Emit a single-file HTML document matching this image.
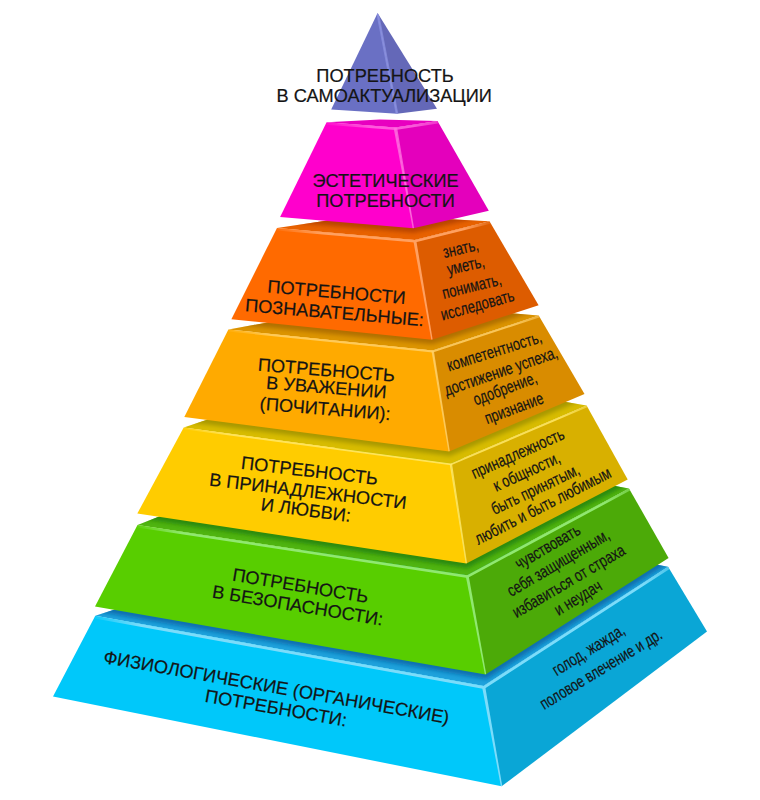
<!DOCTYPE html>
<html><head><meta charset="utf-8"><title>Пирамида потребностей</title>
<style>html,body{margin:0;padding:0;background:#fff;width:760px;height:800px;overflow:hidden}
svg{display:block} text{font-family:"Liberation Sans",sans-serif;fill:#141414;stroke:#141414;stroke-width:0.2px}</style></head>
<body><svg width="760" height="800" viewBox="0 0 760 800">
<defs>
<filter id="bl" x="-10%" y="-50%" width="120%" height="200%"><feGaussianBlur stdDeviation="2"/></filter>
<clipPath id="ct0"><polygon points="95.3,615.8 400.0,518.0 668.1,566.7 483.5,686.0"/></clipPath>
<clipPath id="cf0"><polygon points="95.3,615.8 483.5,686.0 501.6,786.3 53.0,696.6"/><polygon points="483.5,686.0 668.1,566.7 707.0,631.6 501.6,786.3"/></clipPath>
<linearGradient id="hg0" gradientUnits="userSpaceOnUse" x1="95.3" y1="0" x2="668.1" y2="0"><stop offset="0" stop-color="#7cdcfa" stop-opacity="0.1"/><stop offset="0.079" stop-color="#7cdcfa" stop-opacity="1"/><stop offset="0.956" stop-color="#7cdcfa" stop-opacity="1"/><stop offset="1" stop-color="#7cdcfa" stop-opacity="0.60"/></linearGradient>
<clipPath id="ct1"><polygon points="137.5,525.0 356.8,439.5 629.0,488.4 467.1,575.3"/></clipPath>
<clipPath id="cf1"><polygon points="137.5,525.0 467.1,575.3 485.6,674.5 95.0,606.6"/><polygon points="467.1,575.3 629.0,488.4 668.6,558.0 485.6,674.5"/></clipPath>
<linearGradient id="hg1" gradientUnits="userSpaceOnUse" x1="137.5" y1="0" x2="629.0" y2="0"><stop offset="0" stop-color="#90e870" stop-opacity="0.1"/><stop offset="0.092" stop-color="#90e870" stop-opacity="1"/><stop offset="0.949" stop-color="#90e870" stop-opacity="1"/><stop offset="1" stop-color="#90e870" stop-opacity="0.60"/></linearGradient>
<clipPath id="ct2"><polygon points="183.7,427.4 364.4,367.7 586.6,405.5 450.8,463.5"/></clipPath>
<clipPath id="cf2"><polygon points="183.7,427.4 450.8,463.5 466.4,563.5 137.3,513.6"/><polygon points="450.8,463.5 586.6,405.5 627.7,479.5 466.4,563.5"/></clipPath>
<linearGradient id="hg2" gradientUnits="userSpaceOnUse" x1="183.7" y1="0" x2="586.6" y2="0"><stop offset="0" stop-color="#ffe868" stop-opacity="0.1"/><stop offset="0.112" stop-color="#ffe868" stop-opacity="0.85"/><stop offset="0.938" stop-color="#ffe868" stop-opacity="0.85"/><stop offset="1" stop-color="#ffe868" stop-opacity="0.51"/></linearGradient>
<clipPath id="ct3"><polygon points="228.4,329.5 377.7,302.6 538.7,315.5 432.6,350.5"/></clipPath>
<clipPath id="cf3"><polygon points="228.4,329.5 432.6,350.5 449.2,451.5 184.3,417.0"/><polygon points="432.6,350.5 538.7,315.5 584.5,394.0 449.2,451.5"/></clipPath>
<linearGradient id="hg3" gradientUnits="userSpaceOnUse" x1="228.4" y1="0" x2="538.7" y2="0"><stop offset="0" stop-color="#ffd068" stop-opacity="0.1"/><stop offset="0.145" stop-color="#ffd068" stop-opacity="0.85"/><stop offset="0.919" stop-color="#ffd068" stop-opacity="0.85"/><stop offset="1" stop-color="#ffd068" stop-opacity="0.51"/></linearGradient>
<clipPath id="ct4"><polygon points="277.0,227.9 364.5,215.0 489.5,221.3 414.7,240.0"/></clipPath>
<clipPath id="cf4"><polygon points="277.0,227.9 414.7,240.0 432.0,339.7 231.4,319.2"/><polygon points="414.7,240.0 489.5,221.3 538.6,305.3 432.0,339.7"/></clipPath>
<linearGradient id="hg4" gradientUnits="userSpaceOnUse" x1="277.0" y1="0" x2="489.5" y2="0"><stop offset="0" stop-color="#ffa060" stop-opacity="0.1"/><stop offset="0.212" stop-color="#ffa060" stop-opacity="1"/><stop offset="0.882" stop-color="#ffa060" stop-opacity="1"/><stop offset="1" stop-color="#ffa060" stop-opacity="0.20"/></linearGradient>
<clipPath id="ct5"><polygon points="326.6,122.2 380.0,119.5 437.5,121.0 395.3,127.6"/></clipPath>
<clipPath id="cf5"><polygon points="326.6,122.2 395.3,127.6 413.4,228.3 280.1,216.9"/><polygon points="395.3,127.6 437.5,121.0 488.8,210.7 413.4,228.3"/></clipPath>
<linearGradient id="hg5" gradientUnits="userSpaceOnUse" x1="326.6" y1="0" x2="437.5" y2="0"><stop offset="0" stop-color="#ff70e0" stop-opacity="0.1"/><stop offset="0.406" stop-color="#ff70e0" stop-opacity="0.8"/><stop offset="0.775" stop-color="#ff70e0" stop-opacity="0.8"/><stop offset="1" stop-color="#ff70e0" stop-opacity="0.48"/></linearGradient>
<clipPath id="cp"><polygon points="377.6,13.0 437.0,108.8 397.0,113.8 331.2,109.5"/></clipPath>
</defs>
<polygon points="95.3,615.8 400.0,518.0 668.1,566.7 483.5,686.0" fill="#1ea2dc"/>
<g clip-path="url(#ct0)"><polyline points="95.0,606.6 485.6,674.5 668.6,558.0" fill="none" stroke="#0a70b0" stroke-width="9" filter="url(#bl)"/></g>
<polygon points="95.3,615.8 483.5,686.0 501.6,786.3 53.0,696.6" fill="#00c8fa"/>
<polygon points="483.5,686.0 668.1,566.7 707.0,631.6 501.6,786.3" fill="#0aa6d6"/>
<g clip-path="url(#cf0)"><polyline points="95.3,615.8 483.5,686.0 668.1,566.7" fill="none" stroke="url(#hg0)" stroke-width="5.5"/><polygon points="481.9,686.0 485.1,686.0 502.3,786.3 500.9,786.3" fill="#7cdcfa" fill-opacity="1"/></g>
<polygon points="137.5,525.0 356.8,439.5 629.0,488.4 467.1,575.3" fill="#50b410"/>
<g clip-path="url(#ct1)"><polyline points="137.3,513.6 466.4,563.5 627.7,479.5" fill="none" stroke="#2c8a10" stroke-width="9" filter="url(#bl)"/></g>
<polygon points="137.5,525.0 467.1,575.3 485.6,674.5 95.0,606.6" fill="#58ce00"/>
<polygon points="467.1,575.3 629.0,488.4 668.6,558.0 485.6,674.5" fill="#4caa08"/>
<g clip-path="url(#cf1)"><polyline points="137.5,525.0 467.1,575.3 629.0,488.4" fill="none" stroke="url(#hg1)" stroke-width="5"/><polygon points="465.6,575.3 468.6,575.3 486.3,674.5 484.9,674.5" fill="#90e870" fill-opacity="1"/></g>
<polygon points="183.7,427.4 364.4,367.7 586.6,405.5 450.8,463.5" fill="#d8bc00"/>
<g clip-path="url(#ct2)"><polyline points="184.3,417.0 449.2,451.5 584.5,394.0" fill="none" stroke="#a89800" stroke-width="9" filter="url(#bl)"/></g>
<polygon points="183.7,427.4 450.8,463.5 466.4,563.5 137.3,513.6" fill="#ffcc00"/>
<polygon points="450.8,463.5 586.6,405.5 627.7,479.5 466.4,563.5" fill="#d8b000"/>
<g clip-path="url(#cf2)"><polyline points="183.7,427.4 450.8,463.5 586.6,405.5" fill="none" stroke="url(#hg2)" stroke-width="3.6"/><polygon points="449.6,463.5 452.0,463.5 467.1,563.5 465.7,563.5" fill="#ffe868" fill-opacity="0.85"/></g>
<polygon points="228.4,329.5 377.7,302.6 538.7,315.5 432.6,350.5" fill="#dc9400"/>
<g clip-path="url(#ct3)"><polyline points="231.4,319.2 432.0,339.7 538.6,305.3" fill="none" stroke="#b07000" stroke-width="9" filter="url(#bl)"/></g>
<polygon points="228.4,329.5 432.6,350.5 449.2,451.5 184.3,417.0" fill="#ffaa00"/>
<polygon points="432.6,350.5 538.7,315.5 584.5,394.0 449.2,451.5" fill="#d98c00"/>
<g clip-path="url(#cf3)"><polyline points="228.4,329.5 432.6,350.5 538.7,315.5" fill="none" stroke="url(#hg3)" stroke-width="4"/><polygon points="431.4,350.5 433.8,350.5 449.9,451.5 448.5,451.5" fill="#ffd068" fill-opacity="0.85"/></g>
<polygon points="277.0,227.9 364.5,215.0 489.5,221.3 414.7,240.0" fill="#e86200"/>
<g clip-path="url(#ct4)"><polyline points="280.1,216.9 413.4,228.3 488.8,210.7" fill="none" stroke="#b84400" stroke-width="9" filter="url(#bl)"/></g>
<polygon points="277.0,227.9 414.7,240.0 432.0,339.7 231.4,319.2" fill="#ff6a00"/>
<polygon points="414.7,240.0 489.5,221.3 538.6,305.3 432.0,339.7" fill="#dd5c00"/>
<g clip-path="url(#cf4)"><polyline points="277.0,227.9 414.7,240.0 489.5,221.3" fill="none" stroke="url(#hg4)" stroke-width="5"/><polygon points="413.2,240.0 416.2,240.0 432.7,339.7 431.3,339.7" fill="#ffa060" fill-opacity="1"/></g>
<polygon points="326.6,122.2 380.0,119.5 437.5,121.0 395.3,127.6" fill="#e800c0"/>
<g clip-path="url(#ct5)"><polyline points="331.2,109.5 397.0,113.8 437.0,108.8" fill="none" stroke="#c000a0" stroke-width="9" filter="url(#bl)"/></g>
<polygon points="326.6,122.2 395.3,127.6 413.4,228.3 280.1,216.9" fill="#ff00cc"/>
<polygon points="395.3,127.6 437.5,121.0 488.8,210.7 413.4,228.3" fill="#e400bc"/>
<g clip-path="url(#cf5)"><polyline points="326.6,122.2 395.3,127.6 437.5,121.0" fill="none" stroke="url(#hg5)" stroke-width="5"/><polygon points="393.5,127.6 397.1,127.6 414.1,228.3 412.7,228.3" fill="#ff70e0" fill-opacity="0.8"/></g>
<polygon points="377.6,13.0 397.0,113.8 331.2,109.5" fill="#6a70c4"/>
<polygon points="377.6,13.0 437.0,108.8 397.0,113.8" fill="#6468b8"/>
<g clip-path="url(#cp)"><line x1="377.6" y1="13" x2="397" y2="113.8" stroke="#8a90e0" stroke-width="2.6" stroke-opacity="0.8"/></g>
<text transform="translate(385.0,81.8) rotate(0) scale(1.0,1)" font-size="18.2" text-anchor="middle">ПОТРЕБНОСТЬ</text>
<text transform="translate(384.2,101.5) rotate(0) scale(1.0,1)" font-size="18.2" text-anchor="middle">В САМОАКТУАЛИЗАЦИИ</text>
<text transform="translate(385.5,187.4) rotate(0) scale(1.0,1)" font-size="18.2" text-anchor="middle">ЭСТЕТИЧЕСКИЕ</text>
<text transform="translate(385.5,206.8) rotate(0) scale(1.0,1)" font-size="18.2" text-anchor="middle">ПОТРЕБНОСТИ</text>
<text transform="translate(336.0,298.3) rotate(4.8) scale(1.0,1)" font-size="18.2" text-anchor="middle">ПОТРЕБНОСТИ</text>
<text transform="translate(334.0,318.7) rotate(4.8) scale(1.0,1)" font-size="18.2" text-anchor="middle">ПОЗНАВАТЕЛЬНЫЕ:</text>
<text transform="translate(325.9,376.2) rotate(4.6) scale(1.0,1)" font-size="18.2" text-anchor="middle">ПОТРЕБНОСТЬ</text>
<text transform="translate(325.9,393.5) rotate(4.6) scale(1.0,1)" font-size="18.2" text-anchor="middle">В УВАЖЕНИИ</text>
<text transform="translate(324.7,414.9) rotate(4.6) scale(1.0,1)" font-size="18.2" text-anchor="middle">(ПОЧИТАНИИ):</text>
<text transform="translate(308.8,476.8) rotate(6.8) scale(1.0,1)" font-size="18.2" text-anchor="middle">ПОТРЕБНОСТЬ</text>
<text transform="translate(307.3,497.3) rotate(6.8) scale(1.0,1)" font-size="18.2" text-anchor="middle">В ПРИНАДЛЕЖНОСТИ</text>
<text transform="translate(305.1,516.1) rotate(7.5) scale(1.0,1)" font-size="18.2" text-anchor="middle">И ЛЮБВИ:</text>
<text transform="translate(299.4,591.8) rotate(9.4) scale(1.0,1)" font-size="18.2" text-anchor="middle">ПОТРЕБНОСТЬ</text>
<text transform="translate(296.7,611.5) rotate(9.4) scale(1.0,1)" font-size="18.2" text-anchor="middle">В БЕЗОПАСНОСТИ:</text>
<text transform="translate(275.4,693.4) rotate(10) scale(1.0,1)" font-size="18.2" text-anchor="middle">ФИЗИОЛОГИЧЕСКИЕ (ОРГАНИЧЕСКИЕ)</text>
<text transform="translate(275.0,714.1) rotate(10) scale(1.0,1)" font-size="18.2" text-anchor="middle">ПОТРЕБНОСТИ:</text>
<text transform="translate(461.8,254.0) rotate(-12.5) scale(0.76,1)" font-size="17" text-anchor="middle">знать,</text>
<text transform="translate(467.0,271.0) rotate(-13) scale(0.76,1)" font-size="17" text-anchor="middle">уметь,</text>
<text transform="translate(473.1,291.7) rotate(-14) scale(0.76,1)" font-size="17" text-anchor="middle">понимать,</text>
<text transform="translate(478.9,310.5) rotate(-15.5) scale(0.76,1)" font-size="17" text-anchor="middle">исследовать</text>
<text transform="translate(496.0,356.6) rotate(-17.5) scale(0.76,1)" font-size="17" text-anchor="middle">компетентность,</text>
<text transform="translate(502.6,376.6) rotate(-19) scale(0.76,1)" font-size="17" text-anchor="middle">достижение успеха,</text>
<text transform="translate(507.0,393.9) rotate(-20.5) scale(0.74,1)" font-size="17" text-anchor="middle">одобрение,</text>
<text transform="translate(515.9,413.6) rotate(-20.5) scale(0.74,1)" font-size="17" text-anchor="middle">признание</text>
<text transform="translate(520.0,458.6) rotate(-24) scale(0.76,1)" font-size="17" text-anchor="middle">принадлежность</text>
<text transform="translate(528.9,476.8) rotate(-24.5) scale(0.76,1)" font-size="17" text-anchor="middle">к общности,</text>
<text transform="translate(537.7,494.4) rotate(-25.5) scale(0.76,1)" font-size="17" text-anchor="middle">быть принятым,</text>
<text transform="translate(545.3,510.9) rotate(-27) scale(0.76,1)" font-size="17" text-anchor="middle">любить и быть любимым</text>
<text transform="translate(550.5,551.6) rotate(-30.5) scale(0.76,1)" font-size="17" text-anchor="middle">чувствовать</text>
<text transform="translate(561.2,567.6) rotate(-30.5) scale(0.76,1)" font-size="17" text-anchor="middle">себя защищенным,</text>
<text transform="translate(571.5,586.0) rotate(-30.5) scale(0.76,1)" font-size="17" text-anchor="middle">избавиться от страха</text>
<text transform="translate(580.9,602.5) rotate(-31) scale(0.76,1)" font-size="17" text-anchor="middle">и неудач</text>
<text transform="translate(591.5,654.8) rotate(-31.8) scale(0.745,1)" font-size="17" text-anchor="middle">голод, жажда,</text>
<text transform="translate(603.9,673.8) rotate(-31.2) scale(0.745,1)" font-size="17" text-anchor="middle">половое влечение и др.</text>
</svg></body></html>
